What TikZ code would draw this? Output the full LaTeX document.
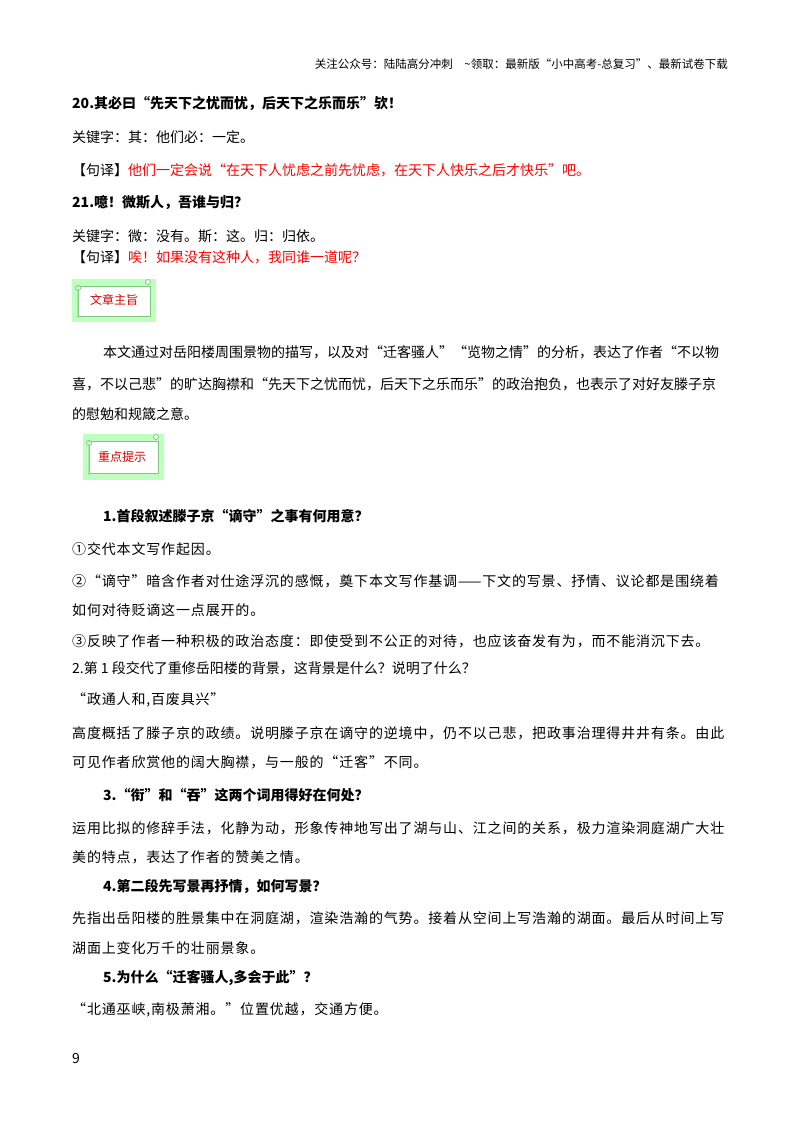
\documentclass[tikz,border=0pt]{standalone}
\usepackage{fontspec}
\setmainfont{Noto Sans CJK SC}
\newfontfamily\wide[LetterSpace=6]{Noto Sans CJK SC}
\begin{document}
\begin{tikzpicture}[x=1pt,y=-1pt,
  txt/.style={anchor=west,inner sep=0pt,font=\fontsize{14}{16}\selectfont},
  wtxt/.style={anchor=west,inner sep=0pt,font=\fontsize{14}{16}\wide},
  bld/.style={txt,font=\fontsize{14}{16}\selectfont\bfseries},
  banner/.style={draw=green!55!black!50,fill=white,line width=0.8pt}]
\useasboundingbox (0,0) rectangle (800,1132);
\fill[white] (0,0) rectangle (800,1132);
\node[anchor=east,inner sep=0pt,font=\fontsize{11.5}{13}\selectfont] (hdr) at (728,64) {关注公众号：陆陆高分冲刺\quad\textasciitilde 领取：最新版“小中高考-总复习”、最新试卷下载};
\node[bld] (l20) at (72,103) {20.其必曰“先天下之忧而忧，后天下之乐而乐”欤！};
\node[txt] (k20) at (72,137) {关键字：其：他们必：一定。};
\node[txt] (y20) at (72,170) {【句译】\textcolor{red}{他们一定会说“在天下人忧虑之前先忧虑，在天下人快乐之后才快乐”吧。}};
\node[bld] (l21) at (72,203) {21.噫！微斯人，吾谁与归？};
\node[txt] (k21) at (72,236) {关键字：微：没有。斯：这。归：归依。};
\node[txt] (y21) at (72,257) {【句译】\textcolor{red}{唉！如果没有这种人，我同谁一道呢？}};
% banner 1
\fill[green!25] (72,279) rectangle (156,322);
\draw[banner] (78,286) rectangle (150,316);
\draw[banner] (78,286) -- (78,318) (148,282) circle (2.5) (78,288) circle (2.5);
\node[inner sep=0pt,text=red!85!black,font=\fontsize{12}{13}\selectfont] (b1) at (114,300) {文章主旨};
\node[txt] (p1) at (103,352) {本文通过对岳阳楼周围景物的描写，以及对“迁客骚人”“览物之情”的分析，表达了作者“不以物};
\node[txt] (p2) at (72,384) {喜，不以己悲”的旷达胸襟和“先天下之忧而忧，后天下之乐而乐”的政治抱负，也表示了对好友滕子京};
\node[txt] (p3) at (72,414) {的慰勉和规箴之意。};
% banner 2
\fill[green!25] (83,434) rectangle (164,480);
\draw[banner] (89,441) rectangle (158,473);
\draw[banner] (89,441) -- (89,475) (156,437) circle (2.5) (89,443) circle (2.5);
\node[inner sep=0pt,text=red!85!black,font=\fontsize{12}{13}\selectfont] (b2) at (122,457) {重点提示};
\node[bld] (q1) at (103,516) {1.首段叙述滕子京“谪守”之事有何用意？};
\node[wtxt] (a1) at (72,549) {①交代本文写作起因。};
\node[wtxt] (a2) at (72,581) {②“谪守”暗含作者对仕途浮沉的感慨，奠下本文写作基调——下文的写景、抒情、议论都是围绕着};
\node[wtxt] (a2b) at (72,610) {如何对待贬谪这一点展开的。};
\node[wtxt] (a3) at (72,641) {③反映了作者一种积极的政治态度：即使受到不公正的对待，也应该奋发有为，而不能消沉下去。};
\node[txt] (q2) at (72,668) {2.第 1 段交代了重修岳阳楼的背景，这背景是什么？说明了什么？};
\node[wtxt] (a4) at (72,700) {“政通人和,百废具兴”};
\node[wtxt] (a5) at (72,733) {高度概括了滕子京的政绩。说明滕子京在谪守的逆境中，仍不以己悲，把政事治理得井井有条。由此};
\node[wtxt] (a5b) at (72,762) {可见作者欣赏他的阔大胸襟，与一般的“迁客”不同。};
\node[bld] (q3) at (103,795) {3.“衔”和“吞”这两个词用得好在何处？};
\node[wtxt] (a6) at (72,828) {运用比拟的修辞手法，化静为动，形象传神地写出了湖与山、江之间的关系，极力渲染洞庭湖广大壮};
\node[wtxt] (a6b) at (72,857) {美的特点，表达了作者的赞美之情。};
\node[bld] (q4) at (103,886) {4.第二段先写景再抒情，如何写景？};
\node[wtxt] (a7) at (72,918) {先指出岳阳楼的胜景集中在洞庭湖，渲染浩瀚的气势。接着从空间上写浩瀚的湖面。最后从时间上写};
\node[wtxt] (a7b) at (72,948) {湖面上变化万千的壮丽景象。};
\node[bld] (q5) at (103,978) {5.为什么“迁客骚人,多会于此”？};
\node[wtxt] (a8) at (72,1010) {“北通巫峡,南极萧湘。”位置优越，交通方便。};
\node[txt] (pg) at (72,1058) {9};
\end{tikzpicture}
\end{document}
